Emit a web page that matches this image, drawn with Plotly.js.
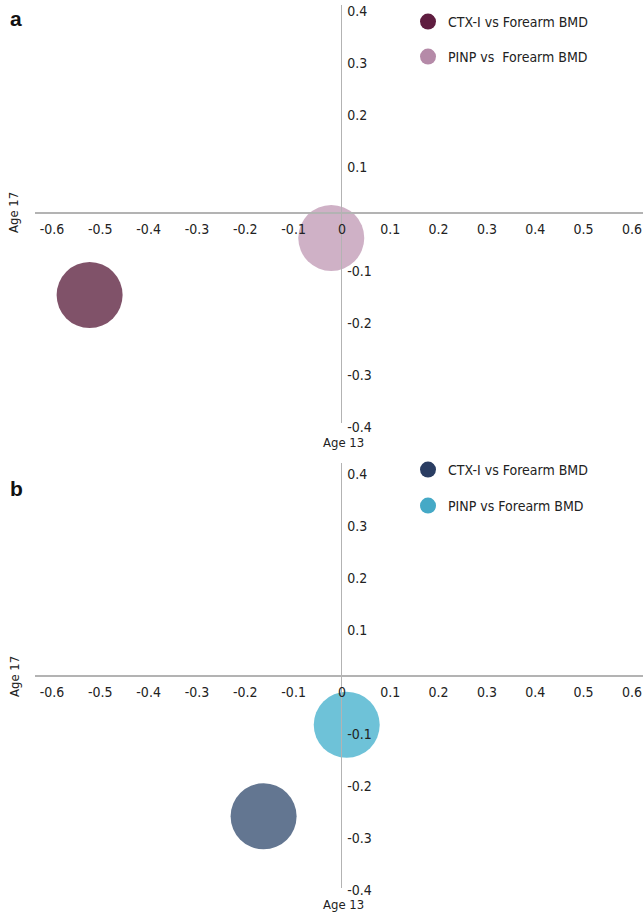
<!DOCTYPE html>
<html>
<head>
<meta charset="utf-8">
<script src="https://cdn.plot.ly/plotly-3.0.1.min.js"></script>
<style>html,body{margin:0;padding:0;background:#fff;}#chart{width:643px;height:912px;}</style>
</head>
<body>
<div id="chart"></div>
<script>
// ---- data ----
const seriesNames = ['CTX-I vs Forearm BMD', 'PINP vs\u00a0 Forearm BMD'];
const seriesNamesB = ['CTX-I vs Forearm BMD', 'PINP vs Forearm BMD'];
const panelLabels = ['a', 'b'];
const xAxisLabel = 'Age 13';
const yAxisLabel = 'Age 17';
// panel a: [CTX-I, PINP]
const panelA_x = [-0.52, -0.02];
const panelA_y = [-0.158, -0.048];
// panel b: [CTX-I, PINP]
const panelB_x = [-0.16, 0.012];
const panelB_y = [-0.27, -0.094];
const xTickVals = [-0.6, -0.5, -0.4, -0.3, -0.2, -0.1, 0, 0.1, 0.2, 0.3, 0.4, 0.5, 0.6];
const xTickText = ['-0.6', '-0.5', '-0.4', '-0.3', '-0.2', '-0.1', '0', '0.1', '0.2', '0.3', '0.4', '0.5', '0.6'];
const yTickVals = [-0.4, -0.3, -0.2, -0.1, 0.1, 0.2, 0.3, 0.4];
const yTickText = ['-0.4', '-0.3', '-0.2', '-0.1', '0.1', '0.2', '0.3', '0.4'];

// ---- styles ----
const FONT = '"DejaVu Sans Condensed", "Roboto", sans-serif';
const W = 643, H = 912;
const bubbleColorsA = ['rgb(128,82,105)', 'rgb(207,177,198)'];
const legendColorsA = ['#5f1d40', '#b58aa8'];
const bubbleColorsB = ['rgb(99,118,145)', 'rgb(110,194,216)'];
const legendColorsB = ['#2a3d62', '#45a9c6'];
const BUBBLE = 66;

const xRange = [-0.633, 0.625];
const yRangeA = [-0.404, 0.40];
const yRangeB = [-0.408, 0.41];
const domA = [1 - 423 / H, 1 - 5 / H];
const domB = [1 - 888 / H, 1 - 463 / H];

function frac(r, v) { return (v - r[0]) / (r[1] - r[0]); }
function posY(dom, r) { return dom[0] + frac(r, 0) * (dom[1] - dom[0]); }

const traces = [];
// bubbles
[0, 1].forEach(i => {
  traces.push({
    type: 'scatter', mode: 'markers', xaxis: 'x', yaxis: 'y',
    x: [panelA_x[i]], y: [panelA_y[i]], showlegend: false, hoverinfo: 'skip',
    marker: { size: BUBBLE, color: bubbleColorsA[i], line: { width: 0 } }
  });
  traces.push({
    type: 'scatter', mode: 'markers', xaxis: 'x2', yaxis: 'y2',
    x: [panelB_x[i]], y: [panelB_y[i]], showlegend: false, hoverinfo: 'skip',
    marker: { size: BUBBLE, color: bubbleColorsB[i], line: { width: 0 } }
  });
});
// legend entries
const legendIds = ['legend', 'legend2', 'legend3', 'legend4'];
[0, 1].forEach(i => {
  traces.push({
    type: 'scatter', mode: 'markers', xaxis: 'x', yaxis: 'y', x: [null], y: [null],
    name: seriesNames[i], legend: legendIds[i], showlegend: true,
    marker: { size: 20, color: legendColorsA[i] }
  });
  traces.push({
    type: 'scatter', mode: 'markers', xaxis: 'x2', yaxis: 'y2', x: [null], y: [null],
    name: seriesNamesB[i], legend: legendIds[2 + i], showlegend: true,
    marker: { size: 20, color: legendColorsB[i] }
  });
});

const plotL = 35, plotW = W - plotL;
const xAxisFrac = frac(xRange, 0);

function xax(dom, r) {
  return {
    domain: [0, 1], range: xRange, anchor: 'free', position: posY(dom, r),
    showline: true, linecolor: '#b3b3b3', linewidth: 2,
    showgrid: false, zeroline: false, ticks: '',
    tickmode: 'array', tickvals: xTickVals, ticktext: xTickText,
    ticklabelshift: 1, ticklabelstandoff: 3, ticklabeloverflow: 'allow',
    tickfont: { family: FONT, size: 14, color: '#222' }, fixedrange: true
  };
}
function yax(dom, r) {
  return {
    domain: dom, range: r, anchor: 'free', position: xAxisFrac, side: 'right',
    showline: true, linecolor: '#b3b3b3', linewidth: 1.5,
    showgrid: false, zeroline: false, ticks: '',
    tickmode: 'array', tickvals: yTickVals, ticktext: yTickText,
    ticklabelshift: 6, ticklabelstandoff: 2, ticklabeloverflow: 'allow',
    tickfont: { family: FONT, size: 14, color: '#222' }, fixedrange: true
  };
}

function legendAt(px, py) {
  return {
    x: (px - plotL) / plotW, y: 1 - py / H, xanchor: 'left', yanchor: 'middle',
    bgcolor: 'rgba(0,0,0,0)', borderwidth: 0,
    font: { family: FONT, size: 14, color: '#222' }, itemsizing: 'trace'
  };
}

const annotations = [];
function addAnn(text, px, py, opts) {
  annotations.push(Object.assign({
    text: text, xref: 'paper', yref: 'paper',
    x: (px - plotL) / plotW, y: 1 - py / H, showarrow: false,
    xanchor: 'center', yanchor: 'middle',
    font: { family: FONT, size: 13, color: '#222' }
  }, opts || {}));
}
const boldFont = { family: 'Liberation Sans, Arial, sans-serif', size: 21, color: '#111' };
addAnn('<b>' + panelLabels[0] + '</b>', 16, 18, { font: boldFont });
addAnn('<b>' + panelLabels[1] + '</b>', 16, 488, { font: boldFont });
addAnn(yAxisLabel, 14, 212, { textangle: -90 });
addAnn(yAxisLabel, 14, 676, { textangle: -90 });
addAnn(xAxisLabel, 343, 442);
addAnn(xAxisLabel, 343, 904);

const layout = {
  width: W, height: H,
  margin: { l: plotL, r: 0, t: 0, b: 0, pad: 0 },
  paper_bgcolor: '#fff', plot_bgcolor: 'rgba(0,0,0,0)',
  showlegend: true,
  xaxis: xax(domA, yRangeA), yaxis: yax(domA, yRangeA),
  xaxis2: xax(domB, yRangeB), yaxis2: yax(domB, yRangeB),
  legend: legendAt(408, 22),
  legend2: legendAt(408, 57),
  legend3: legendAt(408, 470),
  legend4: legendAt(408, 506),
  annotations: annotations
};

Plotly.newPlot('chart', traces, layout, { staticPlot: true, displayModeBar: false });
</script>
</body>
</html>
